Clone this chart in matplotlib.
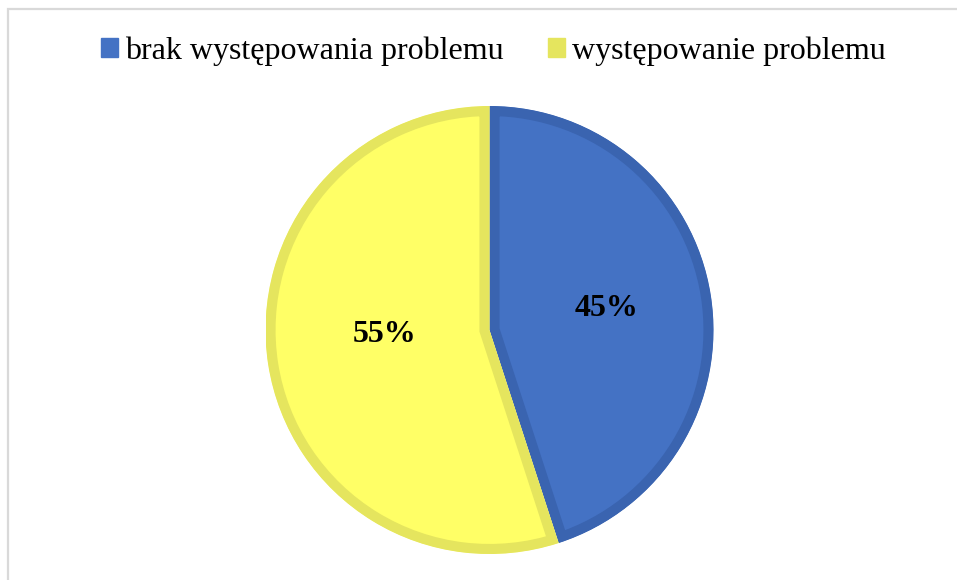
import matplotlib.pyplot as plt
import matplotlib.patches as mpatches
import numpy as np

plt.rcParams['font.family'] = ['Liberation Serif', 'DejaVu Serif']

labels = ['brak występowania problemu', 'występowanie problemu']
values = [45, 55]
fill_colors = ['#4472C4', '#FFFF66']
edge_colors = ['#3A64B0', '#E5E55E']
legend_colors = ['#4472C4', '#E5E55E']
# label placement (radius fraction, angle in degrees) per wedge
label_pos = [(0.53, 10.5), (0.47, 182.7)]

fig = plt.figure(figsize=(9.57, 5.8), dpi=100)

# light grey frame around the chart area
fig.patches.append(mpatches.Rectangle((8 / 957, -0.1), 1.1, 1 - 9.5 / 580 + 0.1,
                                      transform=fig.transFigure, fill=False,
                                      edgecolor='#D9D9D9', linewidth=1.6))

ax = fig.add_axes([265.5 / 957, 26 / 580, 448 / 957, 448 / 580])
wedges, _ = ax.pie(values, colors=fill_colors, startangle=90, counterclock=False,
                   radius=1.0, wedgeprops=dict(linewidth=14.5))
for w, ec in zip(wedges, edge_colors):
    w.set_edgecolor(ec)
    w.set_clip_on(True)
    w.set_clip_path(w)  # keep only the inner half of the thick border

for v, (r, ang) in zip(values, label_pos):
    a = np.deg2rad(ang)
    ax.text(r * np.cos(a), r * np.sin(a), f'{v}%', ha='center', va='center',
            fontsize=23, fontweight='bold', color='black')

ax.set_xlim(-1.0, 1.0)
ax.set_ylim(-1.0, 1.0)
ax.set_aspect('equal')
ax.axis('off')

handles = [mpatches.Patch(color=c) for c in legend_colors]
fig.legend(handles, labels, loc='center', bbox_to_anchor=(0.5 + 15 / 957, 1 - 51 / 580),
           ncol=2, frameon=False, fontsize=23, handlelength=0.53, handleheight=0.53,
           handletextpad=0.22, columnspacing=1.38)

fig.savefig('out.png', dpi=100, facecolor='white')
